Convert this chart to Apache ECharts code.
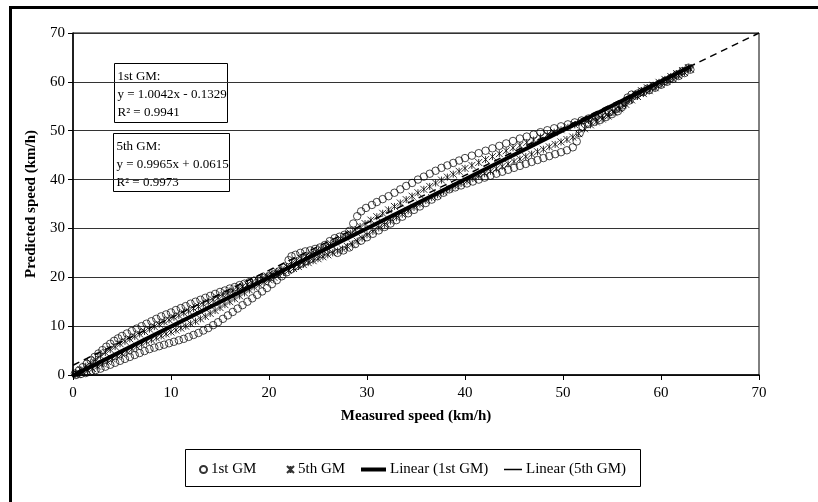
<!DOCTYPE html>
<html>
<head>
<meta charset="utf-8">
<script src="https://cdn.jsdelivr.net/npm/echarts@6/dist/echarts.min.js"></script>
<style>
html,body{margin:0;padding:0;background:#fff;}
#chart{width:818px;height:502px;}
</style>
</head>
<body>
<div id="chart"></div>
<script>
// measured vs predicted speed
let gm1Upper=[[0.2,0.3],[0.6,0.9],[1.0,1.6],[1.4,2.3],[1.8,3.0],[2.2,3.7],[2.6,4.4],[3.0,5.1],[3.4,5.8],[3.8,6.4],[4.2,7.0],[4.6,7.5],[5.0,8.0],[5.5,8.5],[6.0,9.0],[6.5,9.5],[7.0,10.0],[7.5,10.5],[8.0,11.0],[8.5,11.5],[9.0,12.0],[9.5,12.4],[10.0,12.8],[10.5,13.3],[11.0,13.7],[11.5,14.1],[12.0,14.6],[12.5,15.0],[13.0,15.4],[13.5,15.8],[14.0,16.2],[14.5,16.6],[15.0,17.0],[15.5,17.3],[16.0,17.7],[16.5,18.0],[17.0,18.4],[17.5,18.7],[18.0,19.0],[18.5,19.3],[19.0,19.6],[19.5,19.9],[20.0,20.2],[20.5,20.6],[21.0,21.2],[21.5,22.0],[22.0,23.5],[22.3,24.3],[22.7,24.6],[23.2,25.0],[23.7,25.3],[24.2,25.5],[24.7,25.8],[25.2,26.1],[25.7,26.6],[26.2,27.4],[26.7,28.0],[27.2,28.3],[27.7,28.7],[28.2,29.5],[28.6,31.0],[29.0,32.5],[29.4,33.5],[29.9,34.2],[30.5,34.8],[31.0,35.4],[31.6,36.0],[32.2,36.6],[32.8,37.3],[33.4,38.0],[34.0,38.7],[34.6,39.3],[35.2,40.0],[35.8,40.6],[36.4,41.2],[37.0,41.8],[37.6,42.4],[38.2,42.9],[38.8,43.4],[39.4,43.9],[40.0,44.4],[40.7,44.9],[41.4,45.4],[42.1,45.9],[42.8,46.4],[43.5,46.9],[44.2,47.4],[44.9,47.9],[45.6,48.4],[46.3,48.8],[47.0,49.2],[47.7,49.7],[48.4,50.1],[49.1,50.5],[49.8,50.9],[50.5,51.3],[51.2,51.7],[51.9,52.1],[52.6,52.5],[53.3,52.9],[54.0,53.3],[54.7,53.8],[55.4,54.4],[56.1,55.2],[56.8,56.2],[57.4,57.2],[58.0,58.0],[58.6,58.6],[59.2,59.1],[59.8,59.6],[60.4,60.2],[61.0,60.8],[61.6,61.5],[62.2,62.2],[62.8,62.9]];
let gm1Lower=[[0.3,0.0],[0.8,0.2],[1.3,0.4],[1.8,0.7],[2.3,1.0],[2.8,1.3],[3.3,1.7],[3.8,2.1],[4.3,2.5],[4.8,2.9],[5.3,3.3],[5.8,3.7],[6.3,4.1],[6.8,4.5],[7.3,4.9],[7.8,5.3],[8.3,5.6],[8.8,5.9],[9.3,6.2],[9.8,6.5],[10.3,6.8],[10.8,7.1],[11.3,7.4],[11.8,7.8],[12.3,8.2],[12.8,8.6],[13.3,9.1],[13.8,9.6],[14.3,10.2],[14.8,10.8],[15.3,11.5],[15.8,12.2],[16.3,12.9],[16.8,13.6],[17.3,14.3],[17.8,15.0],[18.3,15.7],[18.8,16.4],[19.3,17.1],[19.8,17.8],[20.3,18.6],[20.8,19.4],[21.3,20.2],[21.8,21.0],[22.3,21.7],[22.8,22.3],[23.3,22.8],[23.8,23.3],[24.3,23.8],[24.8,24.3],[25.3,24.8],[25.8,25.3],[26.3,25.8],[27.0,25.0],[27.6,25.5],[28.2,26.1],[28.8,26.8],[29.4,27.5],[30.0,28.2],[30.6,28.9],[31.2,29.6],[31.8,30.3],[32.4,31.0],[33.0,31.7],[33.6,32.4],[34.2,33.1],[34.8,33.8],[35.4,34.5],[36.0,35.2],[36.6,35.9],[37.2,36.6],[37.8,37.3],[38.4,38.0],[39.0,38.4],[39.6,38.8],[40.2,39.2],[40.8,39.6],[41.4,40.0],[42.0,40.4],[42.6,40.8],[43.2,41.2],[43.8,41.6],[44.4,42.0],[45.0,42.4],[45.6,42.8],[46.2,43.2],[46.8,43.6],[47.4,44.0],[48.0,44.4],[48.6,44.8],[49.2,45.2],[49.8,45.6],[50.4,46.0],[51.0,46.6],[51.4,47.8],[51.7,49.5],[52.0,50.8],[52.6,51.4],[53.2,51.8],[53.8,52.2],[54.4,52.8],[55.0,53.4],[55.6,54.0],[56.0,54.8],[56.3,55.8],[56.6,56.8],[57.0,57.4],[57.6,57.6],[58.2,57.9],[58.8,58.3],[59.4,58.8],[60.0,59.4],[60.6,60.0],[61.2,60.6],[61.8,61.2],[62.4,61.8],[63.0,62.5]];
let gm5Upper=[[0.3,0.4],[0.8,1.1],[1.3,1.8],[1.8,2.5],[2.3,3.2],[2.8,3.9],[3.3,4.6],[3.8,5.2],[4.3,5.8],[4.8,6.4],[5.3,6.9],[5.8,7.4],[6.3,7.9],[6.8,8.4],[7.3,8.9],[7.8,9.4],[8.3,9.9],[8.8,10.4],[9.3,10.9],[9.8,11.3],[10.3,11.8],[10.8,12.2],[11.3,12.7],[11.8,13.1],[12.3,13.6],[12.8,14.0],[13.3,14.5],[13.8,14.9],[14.3,15.4],[14.8,15.8],[15.3,16.3],[15.8,16.7],[16.3,17.2],[16.8,17.6],[17.3,18.1],[17.8,18.5],[18.3,19.0],[18.8,19.4],[19.3,19.8],[19.8,20.3],[20.3,20.7],[20.8,21.2],[21.3,21.7],[21.8,22.2],[22.3,22.8],[22.8,23.4],[23.3,23.9],[23.8,24.4],[24.3,24.9],[24.8,25.4],[25.3,25.9],[25.8,26.4],[26.3,26.9],[26.8,27.4],[27.3,27.9],[27.8,28.4],[28.3,29.0],[28.8,29.7],[29.3,30.4],[29.8,31.0],[30.4,31.7],[31.0,32.4],[31.6,33.1],[32.2,33.8],[32.8,34.5],[33.4,35.2],[34.0,35.9],[34.6,36.6],[35.2,37.3],[35.8,38.0],[36.4,38.6],[37.0,39.3],[37.6,39.9],[38.2,40.5],[38.8,41.1],[39.4,41.7],[40.0,42.3],[40.7,42.9],[41.4,43.5],[42.1,44.1],[42.8,44.7],[43.5,45.3],[44.2,45.9],[44.9,46.5],[45.6,47.0],[46.3,47.6],[47.0,48.1],[47.7,48.7],[48.4,49.2],[49.1,49.7],[49.8,50.2],[50.5,50.7],[51.2,51.2],[51.9,51.7],[52.6,52.1],[53.3,52.6],[54.0,53.1],[54.7,53.7],[55.4,54.4],[56.1,55.3],[56.8,56.4],[57.4,57.4],[58.0,58.2],[58.6,58.8],[59.2,59.3],[59.8,59.9],[60.4,60.5],[61.0,61.1],[61.6,61.7],[62.2,62.3],[62.8,62.9]];
let gm5Lower=[[0.5,0.1],[1.0,0.5],[1.5,0.9],[2.0,1.3],[2.5,1.8],[3.0,2.3],[3.5,2.8],[4.0,3.3],[4.5,3.8],[5.0,4.3],[5.5,4.8],[6.0,5.3],[6.5,5.8],[7.0,6.3],[7.5,6.8],[8.0,7.2],[8.5,7.6],[9.0,8.0],[9.5,8.4],[10.0,8.8],[10.5,9.2],[11.0,9.6],[11.5,10.0],[12.0,10.5],[12.5,11.0],[13.0,11.5],[13.5,12.0],[14.0,12.6],[14.5,13.2],[15.0,13.8],[15.5,14.4],[16.0,15.0],[16.5,15.6],[17.0,16.2],[17.5,16.8],[18.0,17.4],[18.5,18.0],[19.0,18.5],[19.5,19.0],[20.0,19.5],[20.5,20.0],[21.0,20.5],[21.5,21.0],[22.0,21.4],[22.5,21.8],[23.0,22.2],[23.5,22.6],[24.0,23.0],[24.5,23.4],[25.0,23.8],[25.5,24.2],[26.0,24.6],[26.5,25.0],[27.0,25.4],[27.5,25.8],[28.0,26.3],[28.5,26.8],[29.0,27.4],[29.5,28.0],[30.0,28.7],[30.6,29.4],[31.2,30.1],[31.8,30.8],[32.4,31.5],[33.0,32.2],[33.6,32.9],[34.2,33.6],[34.8,34.3],[35.4,35.0],[36.0,35.7],[36.6,36.3],[37.2,36.9],[37.8,37.5],[38.4,38.1],[39.0,38.7],[39.6,39.2],[40.2,39.7],[40.8,40.2],[41.4,40.7],[42.0,41.2],[42.6,41.7],[43.2,42.2],[43.8,42.7],[44.4,43.2],[45.0,43.7],[45.6,44.2],[46.2,44.7],[46.8,45.2],[47.4,45.7],[48.0,46.2],[48.6,46.7],[49.2,47.2],[49.8,47.7],[50.4,48.2],[51.0,48.7],[51.6,49.4],[52.2,50.4],[52.8,51.2],[53.4,51.8],[54.0,52.4],[54.6,53.0],[55.2,53.7],[55.8,54.5],[56.4,55.4],[57.0,56.3],[57.6,57.0],[58.2,57.6],[58.8,58.2],[59.4,58.8],[60.0,59.5],[60.6,60.1],[61.2,60.7],[61.8,61.3],[62.4,61.9],[63.0,62.6]];
// trend lines (end points) and the dashed reference line
let trend1=[[0,-0.13],[63,63.13]];
let trend5=[[0,0.06],[63,62.84]];
let refLine=[[0,2],[70,70]];
let axisMin=0, axisMax=70, axisStep=10;
let seriesNames=['1st GM','5th GM','Linear (1st GM)','Linear (5th GM)'];
let eqText1=['1st GM:','y = 1.0042x - 0.1329','R\u00b2 = 0.9941'];
let eqText5=['5th GM:','y = 0.9965x + 0.0615','R\u00b2 = 0.9973'];

let font='"Liberation Serif","Times New Roman",serif';
let xMark='path://M0,0L10,10M10,0L0,10M5,0L5,10';

var myChart=echarts.init(document.getElementById('chart'));

// one legend per item so every icon gets its own size
function oneLegend(name,left,w,h,icon){
    let l={
        data:[{name:name,icon:icon}],
        left:left,
        top:457,
        itemWidth:w,
        itemHeight:h,
        itemGap:0,
        selectedMode:false,
        textStyle:{fontFamily:font,fontSize:15,color:'#000',padding:[0,0,0,-1]}
    };
    return l;
}

function eqBox(lines,x,y,w,h){
    return {
        type:'group',
        left:x,
        top:y,
        children:[
            {type:'rect',shape:{x:0,y:0,width:w,height:h},style:{fill:'#fff',stroke:'#000',lineWidth:1}},
            {type:'text',x:3,y:4,style:{text:lines.join('\n'),font:'13px '+font,fill:'#000',lineHeight:18}}
        ]
    };
}

var option={
    animation:false,
    backgroundColor:'#fff',
    grid:{
        left:73,
        right:59,
        top:33,
        bottom:127,
        show:true,
        borderColor:'#000',
        borderWidth:1
    },
    xAxis:{
        type:'value',
        min:axisMin,
        max:axisMax,
        interval:axisStep,
        name:'Measured speed (km/h)',
        nameLocation:'middle',
        nameGap:34,
        nameTextStyle:{fontFamily:font,fontSize:15,fontWeight:'bold',color:'#000'},
        axisLine:{lineStyle:{color:'#000',width:1.5}},
        axisTick:{inside:false,length:5,lineStyle:{color:'#000'}},
        axisLabel:{fontFamily:font,fontSize:15,color:'#000',margin:11},
        splitLine:{show:false}
    },
    yAxis:{
        type:'value',
        min:axisMin,
        max:axisMax,
        interval:axisStep,
        name:'Predicted speed (km/h)',
        nameLocation:'middle',
        nameGap:31,
        nameRotate:90,
        nameTextStyle:{fontFamily:font,fontSize:15,fontWeight:'bold',color:'#000'},
        axisLine:{lineStyle:{color:'#000',width:1.5}},
        axisTick:{inside:false,length:5,lineStyle:{color:'#000'}},
        axisLabel:{fontFamily:font,fontSize:15,color:'#000',margin:8},
        splitLine:{show:true,lineStyle:{color:'#333',width:1}}
    },
    legend:[
        oneLegend(seriesNames[0],194,7,7),
        oneLegend(seriesNames[1],281,7,7,xMark),
        oneLegend(seriesNames[2],356,25,4,'rect'),
        oneLegend(seriesNames[3],499,18,1.5,'rect')
    ],
    graphic:[
        // outer frame of the figure
        {type:'rect',left:8,top:5,shape:{x:0,y:0,width:840,height:540},style:{fill:'none',stroke:'#000',lineWidth:3},z:100},
        // legend box
        {type:'rect',left:183,top:447,shape:{x:0,y:0,width:455,height:37},style:{fill:'none',stroke:'#000',lineWidth:1},z:100},
        eqBox(eqText1,114,63,113,59),
        eqBox(eqText5,113,133,116,58)
    ],
    series:[
        {
            name:seriesNames[0],
            type:'scatter',
            symbol:'circle',
            symbolSize:7.5,
            itemStyle:{color:'transparent',borderColor:'#000',borderWidth:0.9},
            data:gm1Upper.concat(gm1Lower),
            z:2
        },
        {
            name:seriesNames[1],
            type:'scatter',
            symbol:xMark,
            symbolSize:7,
            itemStyle:{color:'transparent',borderColor:'#000',borderWidth:1},
            data:gm5Upper.concat(gm5Lower),
            z:3
        },
        {
            name:seriesNames[2],
            type:'line',
            symbol:'none',
            lineStyle:{color:'#000',width:4},
            itemStyle:{color:'#000'},
            data:trend1,
            z:5
        },
        {
            name:seriesNames[3],
            type:'line',
            symbol:'none',
            lineStyle:{color:'#000',width:1.2},
            itemStyle:{color:'#000'},
            data:trend5,
            z:6
        },
        {
            name:'ref',
            type:'line',
            symbol:'none',
            lineStyle:{color:'#000',width:1.5,type:[7,5]},
            data:refLine,
            z:4
        }
    ]
};
myChart.setOption(option);
</script>
</body>
</html>
